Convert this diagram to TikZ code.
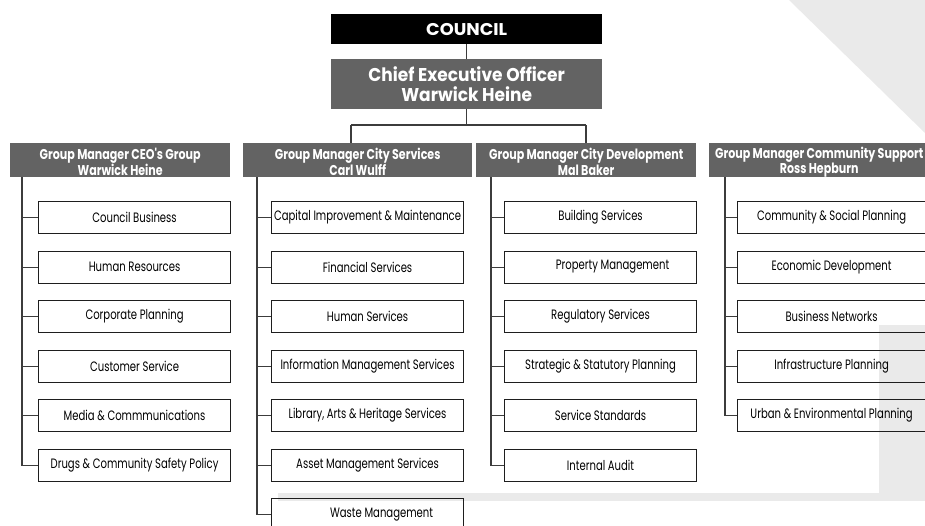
\documentclass[tikz,border=0pt]{standalone}
\usepackage{fontspec}
\setmainfont{Poppins}
\newfontfamily\boxfont{Poppins}[FakeStretch=0.74]
\newfontfamily\hdfont{Poppins}[FakeStretch=0.78]
\newfontfamily\ceofont{Poppins}[FakeStretch=0.92]
\newfontfamily\cnfont{Poppins}[FakeStretch=1.05]
\definecolor{hdgray}{RGB}{99,99,99}
\definecolor{bggray}{RGB}{234,234,234}
\definecolor{boxline}{RGB}{30,30,30}
\definecolor{conline}{RGB}{60,60,60}
\tikzset{
  unitbox/.style={draw=boxline, line width=1.1pt, minimum width=192pt, minimum height=32pt, inner sep=0pt, anchor=north west,
    font=\boxfont\fontsize{13.6}{15}\selectfont, text=black},
  grouphead/.style={fill=hdgray, minimum width=220pt, minimum height=34pt, inner sep=0pt, anchor=north west, align=center,
    text=white, font=\hdfont\bfseries\fontsize{14.2}{14}\selectfont},
  conn/.style={draw=conline, line width=1.1pt},
}
\newcommand\hdstrut{\rule{0pt}{15pt}}
\begin{document}
\begin{tikzpicture}[x=1pt,y=-1pt]
\useasboundingbox (0,0) rectangle (925,525);
% background
\fill[bggray] (789,0) -- (925,0) -- (925,133) -- cycle;
\fill[bggray] (879,325) rectangle (925,501);
\fill[bggray] (278,493) rectangle (925,501);
% top
\node[fill=black, minimum width=271pt, minimum height=30pt, inner sep=0pt, anchor=north west, text=white,
  font=\cnfont\bfseries\fontsize{17}{18}\selectfont] (council) at (331,14) {COUNCIL};
\node[fill=hdgray, minimum width=271pt, minimum height=50pt, inner sep=0pt, anchor=north west, align=center, text=white,
  font=\ceofont\bfseries\fontsize{18.5}{20}\selectfont] (ceo) at (331,59) {Chief Executive Officer\\Warwick Heine};
\draw[conn] (council) -- (ceo);
% group headers
\node[grouphead] (g1) at (10,143) {\hdstrut Group Manager CEO's Group\\Warwick Heine};
\node[grouphead, minimum width=229pt] (g2) at (243,143) {\hdstrut Group Manager City Services\\Carl Wulff};
\node[grouphead] (g3) at (476,143) {\hdstrut Group Manager City Development\\Mal Baker};
\node[grouphead] (g4) at (709,143) {\hdstrut Group Manager Community Support\\Ross Hepburn};
\coordinate (jl) at (351,125);
\coordinate (jr) at (586,125);
\draw[conn] (ceo.south) -- (ceo.south |- jl);
\draw[conn] (jl) -- (jr);
\draw[conn] (jl) -- (jl |- g2.north);
\draw[conn] (jr) -- (jr |- g3.north);
% group 1
\foreach \i/\t in {1/{Council Business},2/{Human Resources},3/{Corporate Planning},4/{Customer Service},5/{Media \& Commmunications},6/{Drugs \& Community Safety Policy}}{
  \node[unitbox] (a\i) at (38,{201+49.5*(\i-1)}) {\t};
}
\coordinate (t1) at (22,177);
\draw[conn] (t1) |- (a6.west);
\foreach \i in {1,...,5}{\draw[conn] (a\i.west) -- (a\i.west -| t1);}
% group 2
\foreach \i/\t in {1/{Capital Improvement \& Maintenance},2/{Financial Services},3/{Human Services},4/{Information Management Services},5/{Library, Arts \& Heritage Services},6/{Asset Management Services},7/{\hspace*{28pt}Waste Management}}{
  \node[unitbox] (b\i) at (271,{201+49.5*(\i-1)}) {\t};
}
\coordinate (t2) at (257,177);
\draw[conn] (t2) |- (b7.west);
\foreach \i in {1,...,6}{\draw[conn] (b\i.west) -- (b\i.west -| t2);}
% group 3
\foreach \i/\t in {1/{Building Services},2/{\hspace*{24pt}Property Management},3/{Regulatory Services},4/{Strategic \& Statutory Planning},5/{Service Standards},6/{Internal Audit}}{
  \node[unitbox] (c\i) at (504,{201+49.5*(\i-1)}) {\t};
}
\coordinate (t3) at (491,177);
\draw[conn] (t3) |- (c6.west);
\foreach \i in {1,...,5}{\draw[conn] (c\i.west) -- (c\i.west -| t3);}
% group 4
\foreach \i/\t in {1/{Community \& Social Planning},2/{Economic Development},3/{Business Networks},4/{Infrastructure Planning},5/{Urban \& Environmental Planning}}{
  \node[unitbox, minimum width=188pt] (d\i) at (737,{201+49.5*(\i-1)}) {\t};
}
\coordinate (t4) at (725,177);
\draw[conn] (t4) |- (d5.west);
\foreach \i in {1,...,4}{\draw[conn] (d\i.west) -- (d\i.west -| t4);}
\end{tikzpicture}
\end{document}
